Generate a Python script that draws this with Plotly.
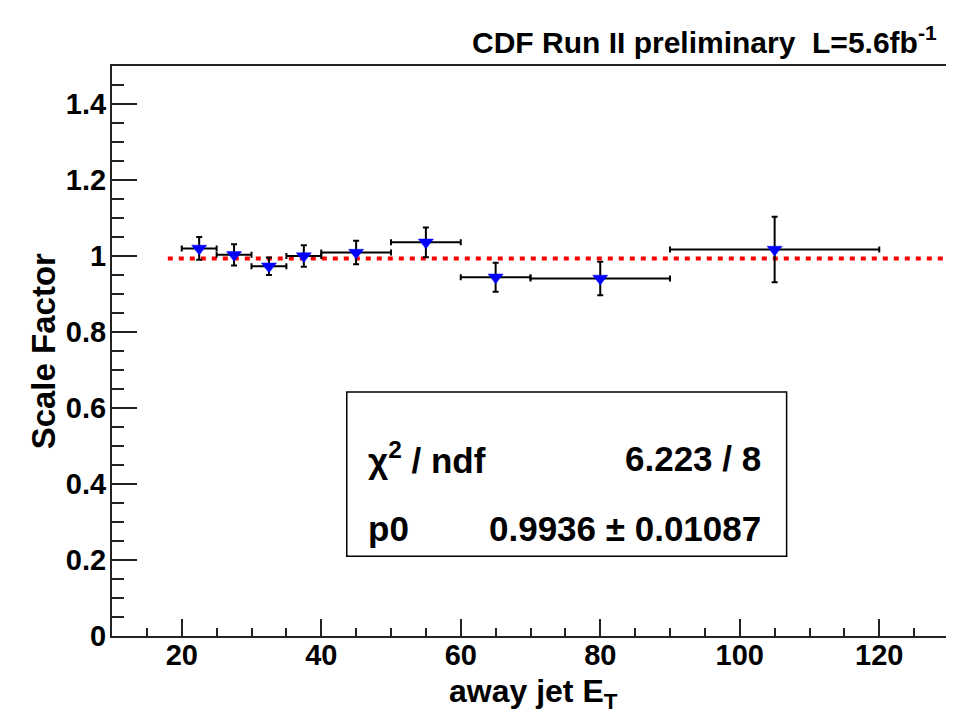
import plotly.graph_objects as go

# Data
bin_lo = [20, 25, 30, 35, 40, 50, 60, 70, 90]
bin_hi = [25, 30, 35, 40, 50, 60, 70, 90, 120]
scale_factor = [1.020, 1.003, 0.973, 1.000, 1.009, 1.036, 0.944, 0.941, 1.017]
sf_err = [0.030, 0.028, 0.023, 0.028, 0.031, 0.039, 0.038, 0.044, 0.086]
fit_p0 = 0.9936
fit_p0_err = 0.01087
fit_chi2 = 6.223
fit_ndf = 8
fit_range = [18, 130]

x_center = [(a + b) / 2 for a, b in zip(bin_lo, bin_hi)]
x_halfw = [(b - a) / 2 for a, b in zip(bin_lo, bin_hi)]

FONT = "Liberation Sans, Arial, sans-serif"

fig = go.Figure()

fig.add_trace(go.Scatter(
    x=fit_range, y=[fit_p0, fit_p0], mode="lines",
    line=dict(color="#ff0000", width=4, dash="5px,6px"),
    hoverinfo="skip", showlegend=False))

# error bars
fig.add_trace(go.Scatter(
    x=x_center, y=scale_factor, mode="markers",
    marker=dict(size=1, color="rgba(0,0,0,0)"),
    error_x=dict(type="data", array=x_halfw, color="black", thickness=2, width=3),
    error_y=dict(type="data", array=sf_err, color="black", thickness=2, width=3),
    hoverinfo="skip", showlegend=False))

# markers on top
fig.add_trace(go.Scatter(
    x=x_center, y=scale_factor, mode="markers",
    marker=dict(symbol="triangle-down", size=13, color="#0000ff",
                line=dict(width=0.5, color="#0000ff")),
    showlegend=False))

axis_common = dict(
    showgrid=False, zeroline=False, showline=True, linecolor="#222222", linewidth=2,
    mirror=True, ticks="inside", tickcolor="#222222", tickwidth=1.5,
    tickfont=dict(family=FONT, size=29, color="black", weight="bold"),
)

fig.update_xaxes(range=[10, 130], dtick=20, tick0=0, ticklen=17, ticklabelstandoff=-8,
                 minor=dict(dtick=5, ticklen=8, ticks="inside", tickcolor="#222222", tickwidth=1.5),
                 **axis_common)
fig.update_yaxes(range=[0, 1.5], dtick=0.2, tick0=0, ticklen=25, ticklabelstandoff=-2,
                 minor=dict(dtick=0.05, ticklen=12, ticks="inside", tickcolor="#222222", tickwidth=1.5),
                 **axis_common)

# stats box
fig.add_shape(type="rect", xref="paper", yref="paper",
              x0=0.2805, x1=0.806, y0=0.140, y1=0.428,
              line=dict(color="black", width=1.5), fillcolor="white", layer="above")

box_font = dict(family=FONT, size=35, color="black", weight="bold")
annos = [
    dict(x=0.3036, y=0.312, text="χ<sup>2</sup> / ndf", xanchor="left"),
    dict(x=0.778, y=0.312, text=f"{fit_chi2:.3f} / {fit_ndf}", xanchor="right"),
    dict(x=0.3036, y=0.188, text="p0", xanchor="left"),
    dict(x=0.778, y=0.188, text=f"{fit_p0:.4f} ± {fit_p0_err:.5f}", xanchor="right"),
]
for a in annos:
    fig.add_annotation(xref="paper", yref="paper", yanchor="middle", showarrow=False,
                       font=box_font, **a)

# axis titles
fig.add_annotation(xref="paper", yref="paper", x=-0.082, y=0.5, textangle=-90,
                   text="Scale Factor", showarrow=False, xanchor="center", yanchor="middle",
                   font=dict(family=FONT, size=33, color="black", weight="bold"))
fig.add_annotation(xref="paper", yref="paper", x=0.504, y=-0.100,
                   text="away jet E<sub>T</sub>", showarrow=False, xanchor="center", yanchor="middle",
                   font=dict(family=FONT, size=32, color="black", weight="bold"))
# top label
fig.add_annotation(xref="paper", yref="paper", x=0.988, y=1.045,
                   text="CDF Run II preliminary  L=5.6fb<sup>-1</sup>", showarrow=False,
                   xanchor="right", yanchor="middle",
                   font=dict(family=FONT, size=30, color="black", weight="bold"))

# the page body adds an 8px offset; margins compensate so the frame lands at 112..951 x 66..636
fig.update_layout(
    width=954, height=719,
    margin=dict(l=104, r=11, t=58, b=91),
    paper_bgcolor="white", plot_bgcolor="white",
)

fig.write_html("out.html")
